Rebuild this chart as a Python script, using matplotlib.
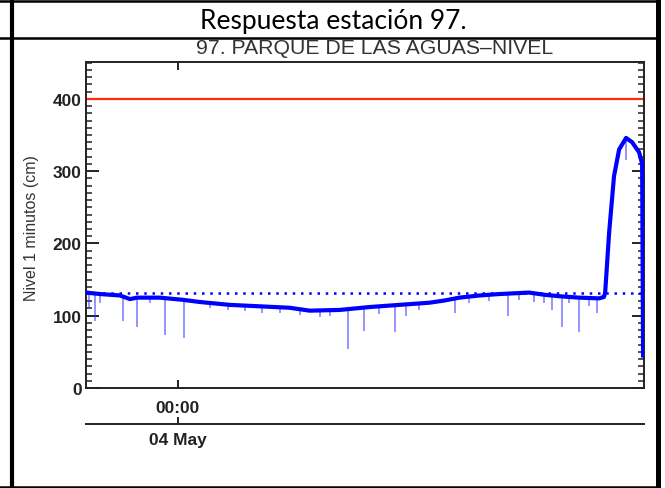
import matplotlib
matplotlib.use('Agg')
import matplotlib.pyplot as plt
from matplotlib.lines import Line2D
from matplotlib.patches import Rectangle
from matplotlib.ticker import MultipleLocator

# ---- data (hours relative to 04 May 00:00, level in cm) ----
base_t = [-3.95, -3.35, -2.49, -2.06, -1.76, -0.77, 0.21, 0.94, 2.23, 3.52, 4.81,
          5.67, 6.96, 8.24, 9.53, 10.82, 11.46, 12.11, 12.97, 13.83, 15.11, 15.76,
          16.40, 17.26, 18.12, 18.33, 18.38, 18.55, 18.76, 18.98, 19.28, 19.54,
          19.84, 19.97, 20.01]
base_v = [132, 130, 128, 123, 125, 125, 122, 119, 115, 113, 111,
          107, 108, 112, 115, 118, 121, 125, 128, 130, 132, 129,
          127, 125, 124, 126, 132, 215, 293, 330, 346, 340,
          326, 310, 45]

spike_t = [-3.82, -3.56, -3.35, -2.36, -1.76, -1.20, -0.56, 0.26, 1.37, 2.15, 2.88,
           3.61, 4.38, 5.24, 6.10, 6.53, 7.34, 7.99, 8.67, 9.32, 9.83, 10.39,
           11.93, 12.54, 13.40, 14.20, 14.68, 15.33, 15.76, 16.10, 16.53, 16.83,
           17.26, 17.69, 18.03, 19.28]
spike_top = [130, 130, 130, 126, 125, 125, 124, 122, 118, 115, 114,
             113, 112, 110, 107, 107, 108, 110, 113, 114, 115, 117,
             123, 127, 129, 130, 131, 132, 129, 128, 126, 126,
             125, 124, 124, 346]
spike_min = [112, 92, 118, 93, 85, 117, 74, 69, 110, 108, 106,
             104, 104, 101, 98, 100, 54, 79, 103, 77, 99, 108,
             104, 118, 121, 99, 122, 119, 117, 108, 85, 118,
             78, 113, 104, 315]

alarm_level = 400
reference_level = 131

y_ticks = [0, 100, 200, 300, 400]
x_tick_hours = [0]
x_tick_labels = ['00:00']
date_labels = ['04 May']

header_text = 'Respuesta estación 97.'
chart_title = '97. PARQUE DE LAS AGUAS\u2013NIVEL'
y_label = 'Nivel 1 minutos (cm)'

# ---- figure ----
W, H = 665, 489
fig = plt.figure(figsize=(W / 100, H / 100), dpi=100)
fig.patch.set_facecolor('white')


def fx(px):
    return px / W


def fy(py):
    return 1 - py / H


ax = fig.add_axes([fx(86), fy(389), fx(644) - fx(86), fy(63) - fy(389)])
ax.set_xlim(-3.95, 20.05)
ax.set_ylim(0, 451)

ax.axhline(alarm_level, color='#ff2a10', lw=1.6, zorder=2)
ax.axhline(reference_level, color='#0000ff', lw=1.8, ls=(0, (1, 2.3)), zorder=2)
ax.vlines(spike_t, spike_min, spike_top, color='#3030ff', lw=1.1, alpha=0.65, zorder=3)
ax.plot(base_t, base_v, color='#0000ff', lw=3.0, solid_joinstyle='round', zorder=4)

for s in ax.spines.values():
    s.set_linewidth(1.4)
    s.set_color('#222222')

ax.set_yticks(y_ticks)
ax.yaxis.set_minor_locator(MultipleLocator(10))
ax.tick_params(axis='y', which='major', direction='in', length=9, width=1.4,
               left=True, right=True, labelsize=12.5, pad=3, colors='#222222')
ax.tick_params(axis='y', which='minor', direction='in', length=4.5, width=1.1,
               left=True, right=True, colors='#222222')
ax.set_xticks(x_tick_hours)
ax.set_xticklabels(x_tick_labels)
ax.tick_params(axis='x', which='major', direction='in', length=6, width=1.4,
               top=True, bottom=True, labelsize=12.5, pad=9, colors='#222222')
ax.xaxis.set_minor_locator(plt.NullLocator())
for lab in ax.get_yticklabels() + ax.get_xticklabels():
    lab.set_fontfamily('Liberation Sans')
    lab.set_fontweight('bold')

sec = ax.secondary_xaxis(-36 / 326)
sec.set_xticks(x_tick_hours)
sec.set_xticklabels(date_labels)
sec.tick_params(axis='x', direction='in', length=5, width=1.4, labelsize=12.5, pad=6,
                colors='#222222')
sec.spines['bottom'].set_linewidth(1.4)
sec.spines['bottom'].set_color('#222222')
for lab in sec.get_xticklabels():
    lab.set_fontfamily('Liberation Sans')
    lab.set_fontweight('bold')

fig.text(fx(32), fy(228), y_label, rotation=90, ha='center', va='center',
         fontsize=11.5, color='#333333', family='Liberation Sans')

# chart title (partly hidden under the table rule)
fig.text(fx(375), fy(48.5), chart_title, ha='center', va='center', fontsize=15.3,
         color='#333333', family='Liberation Sans', zorder=1)

# table header cell
fig.add_artist(Rectangle((0, fy(39)), 1, 1 - fy(39), transform=fig.transFigure,
                         facecolor='white', edgecolor='none', zorder=5))
fig.text(fx(333), fy(21), header_text, ha='center', va='center', fontsize=19,
         color='black', family='Lato', zorder=6)

# table rules
lines = [
    ((fx(12), fx(12)), (0, 1), 3.0),
    ((fx(657.5), fx(657.5)), (0, 1), 3.6),
    ((0, fx(657)), (fy(2), fy(2)), 1.8),
    ((0, fx(657)), (fy(39), fy(39)), 1.8),
    ((0, fx(657)), (fy(487.5), fy(487.5)), 1.8),
]
for xs, ys, lw in lines:
    fig.add_artist(Line2D(xs, ys, transform=fig.transFigure, color='black', lw=lw,
                          zorder=7))

fig.savefig('out.png', dpi=100)
